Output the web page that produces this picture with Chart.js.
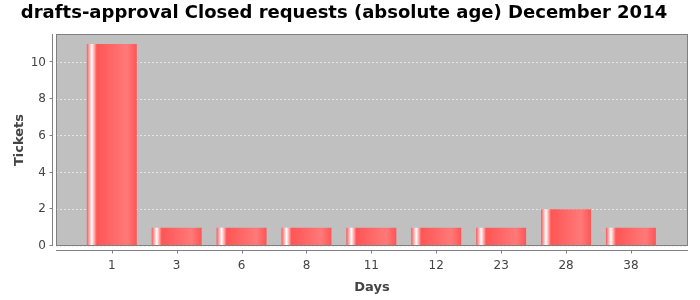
<!DOCTYPE html>
<html lang="en">
<head>
<meta charset="UTF-8">
<title>drafts-approval Closed requests</title>
<script src="https://cdn.jsdelivr.net/npm/chart.js"></script>
<style>
    html, body { margin: 0; padding: 0; background: #ffffff; }
    #wrap { width: 700px; height: 300px; }
</style>
</head>
<body>
<div id="wrap"><canvas id="chart" width="700" height="300"></canvas></div>
<script>
    const days = ["1", "3", "6", "8", "11", "12", "23", "28", "38"];
    const tickets = [11, 1, 1, 1, 1, 1, 1, 2, 1];
    const yTicks = [0, 2, 4, 6, 8, 10];

    const axisGray = "#808080";
    const textGray = "#444444";

    // JFreeChart style gradient bar
    function barGradient(ctx) {
        const chart = ctx.chart;
        const xs = chart.scales.x;
        if (!xs || !chart.chartArea) return "#ff5555";
        const cx = xs.getPixelForValue(ctx.dataIndex);
        const w = (xs.getPixelForValue(1) - xs.getPixelForValue(0)) * 0.77;
        const g = chart.ctx.createLinearGradient(cx - w / 2, 0, cx + w / 2, 0);
        g.addColorStop(0, "#ff5555");
        g.addColorStop(0.10, "#ffffff");
        g.addColorStop(0.20, "#ff5555");
        g.addColorStop(0.80, "#ff7979");
        g.addColorStop(1, "#ff5555");
        return g;
    }

    const plotDeco = {
        id: "plotDeco",
        beforeDraw(chart) {
            const a = chart.chartArea, c = chart.ctx;
            c.save();
            c.fillStyle = "#ffffff";
            c.fillRect(0, 0, chart.width, chart.height);
            c.fillStyle = "#c0c0c0";
            c.fillRect(a.left, a.top, a.right - a.left, a.bottom - a.top);
            c.restore();
        },
        afterDraw(chart) {
            const a = chart.chartArea, c = chart.ctx;
            const xs = chart.scales.x, ys = chart.scales.y;
            c.save();
            c.strokeStyle = axisGray;
            c.lineWidth = 1;
            c.strokeRect(a.left + 0.5, a.top + 0.5, a.right - a.left - 1, a.bottom - a.top - 1);
            // offset y axis
            const yx = a.left - 3.5;
            c.beginPath();
            c.moveTo(yx, a.top);
            c.lineTo(yx, a.bottom);
            yTicks.forEach(v => {
                const py = Math.round(ys.getPixelForValue(v)) - 0.5;
                c.moveTo(yx - 3, py);
                c.lineTo(yx, py);
            });
            // offset x axis
            const xy = a.bottom + 4.5;
            c.moveTo(a.left, xy);
            c.lineTo(a.right, xy);
            days.forEach((d, i) => {
                const px = Math.round(xs.getPixelForValue(i)) + 0.5;
                c.moveTo(px, xy);
                c.lineTo(px, xy + 3);
            });
            c.stroke();
            c.restore();
        }
    };

    new Chart(document.getElementById("chart"), {
        type: "bar",
        data: {
            datasets: [{
                data: tickets.map((v, i) => ({ x: i, y: v })),
                backgroundColor: barGradient,
                borderWidth: 0,
                categoryPercentage: 1,
                barPercentage: 0.77
            }]
        },
        plugins: [plotDeco],
        options: {
            responsive: false,
            animation: false,
            layout: { padding: { left: 0, right: 12, top: 0, bottom: 0 } },
            plugins: {
                legend: { display: false },
                tooltip: { enabled: false },
                title: {
                    display: true,
                    text: "drafts-approval Closed requests (absolute age) December 2014",
                    color: "#000000",
                    font: { family: "DejaVu Sans", size: 18, weight: "bold", lineHeight: 1.2 },
                    padding: { top: 3, bottom: 9.4 }
                }
            },
            scales: {
                x: {
                    type: "linear",
                    offset: false,
                    min: -0.86,
                    max: 8.88,
                    afterBuildTicks: s => { s.ticks = days.map((d, i) => ({ value: i })); },
                    afterFit: s => { s.height = 54; },
                    grid: { display: false, drawTicks: false, offset: false },
                    border: { display: false },
                    ticks: {
                        callback: v => days[v],
                        color: textGray,
                        padding: 13,
                        maxRotation: 0,
                        autoSkip: false,
                        font: { family: "DejaVu Sans", size: 12 }
                    },
                    title: {
                        display: true,
                        text: "Days",
                        color: textGray,
                        font: { family: "DejaVu Sans", size: 13, weight: "bold" },
                        padding: { top: 0, bottom: 5 }
                    }
                },
                y: {
                    min: 0,
                    max: 11.55,
                    afterBuildTicks: s => { s.ticks = yTicks.map(v => ({ value: v })); },
                    afterFit: s => { s.width = 56; },
                    grid: {
                        drawTicks: false,
                        color: "rgba(235,235,235,0.85)",
                        lineWidth: 1
                    },
                    border: { display: false, dash: [2, 2] },
                    ticks: {
                        color: textGray,
                        padding: 10,
                        font: { family: "DejaVu Sans", size: 12 }
                    },
                    title: {
                        display: true,
                        text: "Tickets",
                        color: textGray,
                        font: { family: "DejaVu Sans", size: 13, weight: "bold" },
                        padding: { top: 12, bottom: 0 }
                    }
                }
            }
        }
    });
</script>
</body>
</html>
